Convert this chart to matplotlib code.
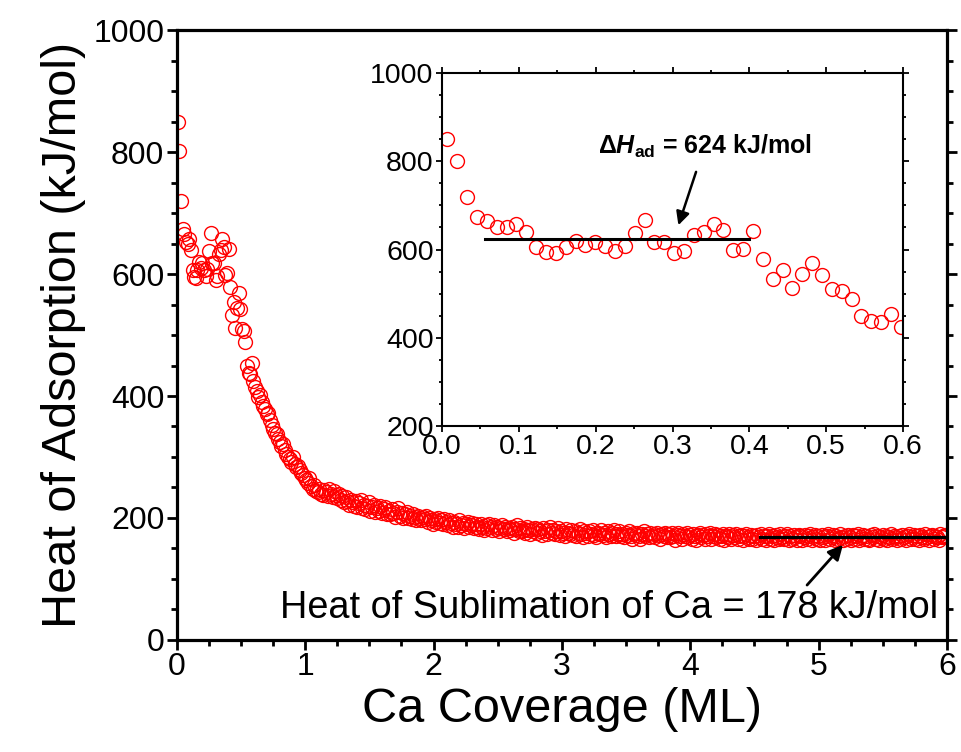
import matplotlib.pyplot as plt
import numpy as np
from matplotlib.ticker import MultipleLocator

plt.rcParams['font.family'] = ['Liberation Sans', 'DejaVu Sans']
plt.rcParams['mathtext.fontset'] = 'custom'
plt.rcParams['mathtext.rm'] = 'Liberation Sans:bold'
plt.rcParams['mathtext.it'] = 'Liberation Sans:italic:bold'
plt.rcParams['mathtext.bf'] = 'Liberation Sans:bold'

# coverage grid: constant Ca dose per pulse
cov_start = 0.0069
cov_step = 0.01283

# heat of adsorption (kJ/mol), first 48 pulses (inset region, 0-0.6 ML)
heat_low = [850, 801, 719, 674, 665, 652, 650, 658, 639, 606,
            595, 593, 606, 619, 610, 618, 607, 597, 608, 638,
            668, 618, 618, 591, 597, 633, 639, 658, 645, 598,
            601, 641, 578, 533, 554, 512, 544, 569, 542, 510,
            507, 488, 449, 438, 436, 454, 424, 415]

# remaining pulses up to 6 ML
heat_high = [408, 398, 402, 390, 384, 378, 370, 372, 360, 352,
             346, 340, 338, 330, 325, 318, 322, 312, 305, 300,
             296, 292, 300, 288, 284, 286, 278, 274, 270, 266,
             262, 258, 266, 252, 248, 254, 244, 242, 248, 240,
             238, 246, 242, 236, 248, 240, 234, 244, 238, 232,
             240, 230, 236, 226, 234, 228, 222, 230, 226, 220,
             228, 218, 224, 230, 216, 222, 214, 220, 226, 212,
             218, 222, 210, 216, 212, 220, 208, 214, 218, 206,
             212, 206, 214, 208, 202, 210, 216, 204, 208, 200,
             206, 210, 200, 204, 198, 206, 202, 196, 204, 200,
             196, 202, 198, 204, 194, 200, 196, 190, 198, 194,
             200, 192, 196, 190, 198, 194, 188, 196, 192, 186,
             194, 190, 186, 196, 188, 192, 184, 190, 194, 186,
             188, 192, 184, 190, 186, 182, 190, 186, 180, 188,
             184, 190, 186, 180, 188, 182, 186, 178, 184, 188,
             182, 186, 178, 184, 180, 186, 176, 182, 188, 178,
             184, 178, 182, 176, 186, 180, 174, 182, 178, 184,
             176, 182, 178, 172, 184, 178, 174, 180, 186, 176,
             180, 174, 178, 184, 172, 178, 176, 170, 182, 176,
             174, 180, 172, 178, 170, 176, 182, 174, 168, 178,
             176, 170, 178, 174, 180, 172, 168, 176, 174, 180,
             172, 176, 168, 178, 174, 170, 176, 180, 170, 174,
             178, 170, 174, 168, 176, 172, 178, 170, 166, 176,
             172, 176, 170, 166, 174, 178, 170, 174, 168, 176,
             170, 174, 168, 176, 172, 166, 174, 170, 176, 168,
             174, 168, 176, 170, 164, 172, 176, 170, 166, 174,
             170, 176, 168, 172, 166, 174, 170, 164, 172, 176,
             168, 172, 166, 174, 170, 176, 166, 170, 174, 168,
             172, 166, 170, 174, 164, 170, 168, 174, 166, 172,
             168, 174, 166, 170, 172, 164, 170, 174, 168, 166,
             172, 166, 170, 164, 172, 168, 174, 166, 170, 164,
             170, 174, 166, 170, 164, 172, 168, 166, 174, 168,
             166, 170, 174, 164, 170, 166, 172, 168, 164, 172,
             170, 164, 168, 172, 166, 170, 174, 164, 168, 172,
             166, 170, 164, 172, 168, 164, 170, 174, 166, 168,
             172, 164, 170, 166, 174, 168, 164, 170, 166, 172,
             168, 164, 172, 166, 170, 174, 164, 168, 172, 166,
             170, 166, 164, 172, 168, 174, 166, 170, 164, 168,
             172, 166, 170, 164, 168, 174, 166, 170, 168, 164,
             170, 166, 172, 168, 164, 170, 174, 166, 168, 172,
             166, 170, 164, 172, 168, 166, 174, 168, 164, 170,
             172, 166, 170, 168, 164, 174, 168, 170, 172]

heat = np.array(heat_low + heat_high, dtype=float)
coverage = cov_start + cov_step * np.arange(len(heat))

sublimation = 168
sub_range = [4.54, 6.0]
plateau = 624
plateau_range = [0.056, 0.40]

fig = plt.figure(figsize=(9.61, 7.52), dpi=100)
ax = fig.add_axes([0.184, 0.149, 0.8014, 0.811])

ax.plot(coverage, heat, 'o', mfc='none', mec='red', ms=10, mew=1.0)
ax.plot(sub_range, [sublimation, sublimation], color='black', lw=2.3)
ax.set_xlim(0, 6)
ax.set_ylim(0, 1000)
ax.xaxis.set_major_locator(MultipleLocator(1))
ax.xaxis.set_minor_locator(MultipleLocator(0.25))
ax.yaxis.set_major_locator(MultipleLocator(200))
ax.yaxis.set_minor_locator(MultipleLocator(50))
ax.tick_params(which='both', direction='out', width=2, right=True, top=False,
               labelsize=23, pad=2)
ax.tick_params(which='major', length=7)
ax.tick_params(which='minor', length=4)
for s in ax.spines.values():
    s.set_linewidth(2.3)
ax.set_xlabel('Ca Coverage (ML)', fontsize=35, labelpad=3)
ax.set_ylabel('Heat of Adsorption (kJ/mol)', fontsize=35, labelpad=5)

ax.text(5.93, 36, 'Heat of Sublimation of Ca = 178 kJ/mol', fontsize=27.3,
        ha='right', va='baseline')
ax.annotate('', xy=(5.19, 156), xytext=(4.91, 90),
            arrowprops=dict(arrowstyle='-|>', color='black', lw=2,
                            mutation_scale=22, shrinkA=0, shrinkB=0))

# inset: low coverage region
ins = fig.add_axes([0.46, 0.4335, 0.4797, 0.4694])
ins.plot(coverage, heat, 'o', mfc='none', mec='red', ms=10, mew=1.0)
ins.plot(plateau_range, [plateau, plateau], color='black', lw=2.2)
ins.set_xlim(0, 0.6)
ins.set_ylim(200, 1000)
ins.xaxis.set_major_locator(MultipleLocator(0.1))
ins.xaxis.set_minor_locator(MultipleLocator(0.05))
ins.yaxis.set_major_locator(MultipleLocator(200))
ins.yaxis.set_minor_locator(MultipleLocator(50))
ins.tick_params(which='both', direction='out', width=1.3, right=True, top=True,
                labelsize=20.5, pad=1.5)
ins.tick_params(which='major', length=4.5)
ins.tick_params(which='minor', length=2.5)
for s in ins.spines.values():
    s.set_linewidth(1.5)

ins.text(0.203, 816, 'Δ$\\mathit{H}_{\\mathrm{ad}}$ = 624 kJ/mol', fontsize=18,
         fontweight='bold', ha='left', va='baseline')
ins.annotate('', xy=(0.3076, 655), xytext=(0.3306, 776),
             arrowprops=dict(arrowstyle='-|>', color='black', lw=1.8,
                             mutation_scale=20, shrinkA=0, shrinkB=0))

plt.savefig('out.png', dpi=100)
